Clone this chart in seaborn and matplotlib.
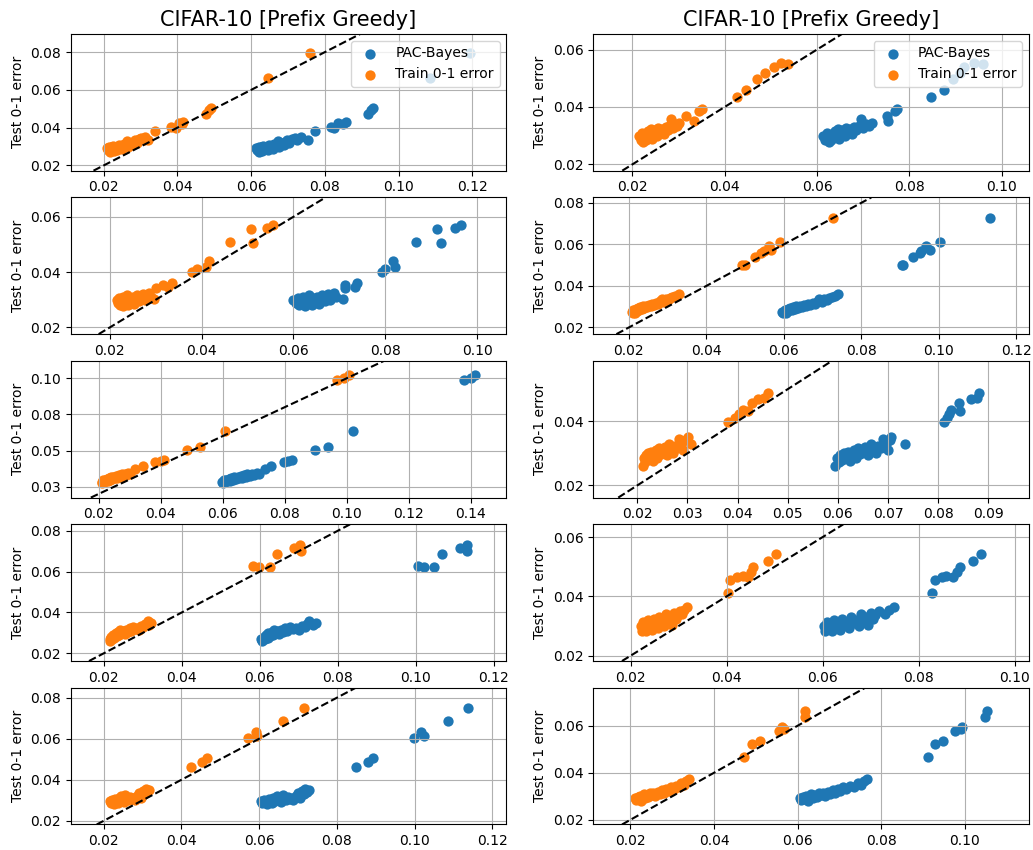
import matplotlib
matplotlib.use("Agg")
import matplotlib.pyplot as plt
import seaborn as sns
from matplotlib.ticker import FormatStrFormatter

# Each panel: train 0-1 error, PAC-Bayes bound and test 0-1 error of the same models
# (panels listed row by row: left, right)
train_1 = [0.0210, 0.0212, 0.0215, 0.0218, 0.0220, 0.0222, 0.0225, 0.0228, 0.0230, 0.0233,
           0.0236, 0.0240, 0.0243, 0.0247, 0.0250, 0.0254, 0.0258, 0.0262, 0.0265, 0.0270,
           0.0275, 0.0280, 0.0285, 0.0290, 0.0296, 0.0302, 0.0308, 0.0312, 0.0320,
           0.0340, 0.0382, 0.0395, 0.0403, 0.0416, 0.0412, 0.0477, 0.0490, 0.0485, 0.0646, 0.0759]
pb_1 = [0.0612, 0.0615, 0.0620, 0.0622, 0.0628, 0.0625, 0.0632, 0.0630, 0.0638, 0.0640,
        0.0645, 0.0648, 0.0652, 0.0655, 0.0660, 0.0662, 0.0668, 0.0672, 0.0675, 0.0680,
        0.0688, 0.0692, 0.0698, 0.0702, 0.0710, 0.0718, 0.0725, 0.0735, 0.0754,
        0.0772, 0.0817, 0.0825, 0.0835, 0.0858, 0.0850, 0.0916, 0.0930, 0.0925, 0.1085, 0.1193]
test_1 = [0.0290, 0.0280, 0.0300, 0.0272, 0.0295, 0.0285, 0.0305, 0.0276, 0.0292, 0.0300,
          0.0283, 0.0310, 0.0295, 0.0302, 0.0288, 0.0315, 0.0305, 0.0330, 0.0298, 0.0318,
          0.0308, 0.0325, 0.0335, 0.0320, 0.0340, 0.0345, 0.0335, 0.0350, 0.0332,
          0.0382, 0.0402, 0.0398, 0.0425, 0.0432, 0.0418, 0.0472, 0.0505, 0.0495, 0.0661, 0.0796]

train_2 = [0.0215, 0.0218, 0.0220, 0.0222, 0.0225, 0.0228, 0.0230, 0.0233, 0.0236, 0.0240,
           0.0243, 0.0246, 0.0250, 0.0253, 0.0256, 0.0260, 0.0264, 0.0268, 0.0272, 0.0276,
           0.0280, 0.0283, 0.0287, 0.0292, 0.0296, 0.0300,
           0.0315, 0.0333, 0.0344, 0.0350, 0.0427, 0.0447, 0.0470, 0.0488, 0.0506, 0.0522, 0.0538]
pb_2 = [0.0612, 0.0618, 0.0622, 0.0625, 0.0628, 0.0632, 0.0630, 0.0638, 0.0640, 0.0645,
        0.0648, 0.0652, 0.0655, 0.0660, 0.0662, 0.0668, 0.0672, 0.0676, 0.0680, 0.0685,
        0.0690, 0.0696, 0.0700, 0.0705, 0.0712, 0.0718,
        0.0752, 0.0754, 0.0768, 0.0774, 0.0846, 0.0874, 0.0894, 0.0909, 0.0919, 0.0941, 0.0959]
test_2 = [0.0300, 0.0285, 0.0310, 0.0278, 0.0295, 0.0305, 0.0285, 0.0315, 0.0298, 0.0322,
          0.0290, 0.0308, 0.0318, 0.0300, 0.0328, 0.0312, 0.0322, 0.0305, 0.0330, 0.0318,
          0.0335, 0.0358, 0.0325, 0.0340, 0.0332, 0.0345,
          0.0367, 0.0352, 0.0385, 0.0394, 0.0436, 0.0459, 0.0496, 0.0517, 0.0540, 0.0554, 0.0550]

train_3 = [0.0215, 0.0218, 0.0220, 0.0222, 0.0225, 0.0228, 0.0230, 0.0232, 0.0235, 0.0238,
           0.0240, 0.0243, 0.0246, 0.0250, 0.0253, 0.0257, 0.0260, 0.0264, 0.0268, 0.0272,
           0.0276, 0.0280, 0.0285, 0.0290, 0.0297,
           0.0301, 0.0317, 0.0335, 0.0328, 0.0380, 0.0391, 0.0409, 0.0417, 0.0462, 0.0507,
           0.0513, 0.0543, 0.0556]
pb_3 = [0.0600, 0.0605, 0.0610, 0.0612, 0.0618, 0.0622, 0.0625, 0.0628, 0.0632, 0.0635,
        0.0640, 0.0642, 0.0648, 0.0652, 0.0655, 0.0660, 0.0662, 0.0668, 0.0672, 0.0676,
        0.0680, 0.0684, 0.0688, 0.0692, 0.0709,
        0.0713, 0.0713, 0.0739, 0.0734, 0.0792, 0.0800, 0.0821, 0.0817, 0.0868, 0.0913,
        0.0922, 0.0951, 0.0964]
test_3 = [0.0298, 0.0288, 0.0305, 0.0282, 0.0295, 0.0310, 0.0276, 0.0300, 0.0290, 0.0318,
          0.0280, 0.0305, 0.0295, 0.0312, 0.0285, 0.0302, 0.0318, 0.0295, 0.0308, 0.0322,
          0.0300, 0.0315, 0.0325, 0.0310, 0.0304,
          0.0342, 0.0355, 0.0362, 0.0346, 0.0402, 0.0410, 0.0420, 0.0441, 0.0510, 0.0556,
          0.0505, 0.0558, 0.0570]

train_4 = [0.0208, 0.0210, 0.0212, 0.0215, 0.0218, 0.0220, 0.0223, 0.0226, 0.0230, 0.0233,
           0.0236, 0.0240, 0.0244, 0.0248, 0.0252, 0.0256, 0.0260, 0.0265, 0.0270, 0.0275,
           0.0280, 0.0285, 0.0290, 0.0295, 0.0300, 0.0306, 0.0312, 0.0320, 0.0329,
           0.0492, 0.0500, 0.0527, 0.0540, 0.0548, 0.0561, 0.0567, 0.0591, 0.0726]
pb_4 = [0.0595, 0.0598, 0.0602, 0.0605, 0.0610, 0.0612, 0.0615, 0.0620, 0.0625, 0.0628,
        0.0632, 0.0638, 0.0642, 0.0648, 0.0652, 0.0658, 0.0662, 0.0668, 0.0675, 0.0680,
        0.0688, 0.0692, 0.0698, 0.0705, 0.0712, 0.0718, 0.0725, 0.0732, 0.0740,
        0.0904, 0.0908, 0.0934, 0.0951, 0.0955, 0.0967, 0.0978, 0.1004, 0.1133]
test_4 = [0.0275, 0.0268, 0.0285, 0.0272, 0.0290, 0.0280, 0.0295, 0.0285, 0.0298, 0.0290,
          0.0302, 0.0295, 0.0305, 0.0298, 0.0310, 0.0302, 0.0315, 0.0308, 0.0320, 0.0312,
          0.0328, 0.0335, 0.0325, 0.0338, 0.0332, 0.0342, 0.0345, 0.0352, 0.0362,
          0.0502, 0.0500, 0.0540, 0.0560, 0.0568, 0.0590, 0.0574, 0.0611, 0.0726]

train_5 = [0.0210, 0.0212, 0.0215, 0.0218, 0.0220, 0.0223, 0.0226, 0.0230, 0.0233, 0.0236,
           0.0240, 0.0244, 0.0248, 0.0252, 0.0256, 0.0260, 0.0265, 0.0270, 0.0275, 0.0280,
           0.0285, 0.0290, 0.0296, 0.0302,
           0.0318, 0.0343, 0.0383, 0.0400, 0.0412, 0.0485, 0.0526, 0.0609, 0.0969, 0.0990, 0.1006]
pb_5 = [0.0598, 0.0600, 0.0605, 0.0608, 0.0612, 0.0615, 0.0620, 0.0625, 0.0628, 0.0632,
        0.0638, 0.0642, 0.0648, 0.0652, 0.0658, 0.0662, 0.0668, 0.0675, 0.0680, 0.0688,
        0.0695, 0.0702, 0.0710, 0.0718,
        0.0735, 0.0756, 0.0797, 0.0810, 0.0824, 0.0899, 0.0939, 0.1020, 0.1377, 0.1400, 0.1415]
test_5 = [0.0285, 0.0275, 0.0295, 0.0280, 0.0300, 0.0288, 0.0305, 0.0292, 0.0310, 0.0298,
          0.0315, 0.0302, 0.0320, 0.0308, 0.0325, 0.0312, 0.0330, 0.0318, 0.0335, 0.0325,
          0.0340, 0.0330, 0.0345, 0.0338,
          0.0370, 0.0392, 0.0421, 0.0425, 0.0433, 0.0507, 0.0528, 0.0636, 0.0988, 0.1005, 0.1020]

train_6 = [0.0212, 0.0214, 0.0216, 0.0218, 0.0220, 0.0222, 0.0225, 0.0228, 0.0231, 0.0234,
           0.0237, 0.0240, 0.0244, 0.0247, 0.0251, 0.0255, 0.0259, 0.0263, 0.0267, 0.0271,
           0.0275, 0.0280, 0.0284, 0.0288, 0.0292, 0.0296, 0.0301,
           0.0308, 0.0381, 0.0395, 0.0402, 0.0410, 0.0421, 0.0428, 0.0440, 0.0452, 0.0461]
pb_6 = [0.0595, 0.0598, 0.0602, 0.0605, 0.0608, 0.0612, 0.0615, 0.0620, 0.0624, 0.0628,
        0.0632, 0.0636, 0.0640, 0.0645, 0.0650, 0.0655, 0.0660, 0.0665, 0.0670, 0.0675,
        0.0680, 0.0686, 0.0690, 0.0695, 0.0700, 0.0703, 0.0705,
        0.0733, 0.0811, 0.0818, 0.0821, 0.0825, 0.0843, 0.0841, 0.0865, 0.0878, 0.0881]
test_6 = [0.0262, 0.0285, 0.0272, 0.0295, 0.0280, 0.0300, 0.0288, 0.0305, 0.0275, 0.0295,
          0.0310, 0.0285, 0.0318, 0.0298, 0.0308, 0.0320, 0.0295, 0.0330, 0.0310, 0.0300,
          0.0322, 0.0315, 0.0345, 0.0328, 0.0310, 0.0340, 0.0352,
          0.0330, 0.0398, 0.0410, 0.0423, 0.0436, 0.0433, 0.0457, 0.0468, 0.0473, 0.0488]

train_7 = [0.0215, 0.0217, 0.0219, 0.0221, 0.0224, 0.0227, 0.0230, 0.0233, 0.0236, 0.0239,
           0.0242, 0.0246, 0.0250, 0.0254, 0.0258, 0.0262, 0.0266, 0.0270, 0.0275, 0.0280,
           0.0285, 0.0290, 0.0295, 0.0300, 0.0306, 0.0312, 0.0316, 0.0320,
           0.0582, 0.0599, 0.0627, 0.0644, 0.0687, 0.0704, 0.0706]
pb_7 = [0.0602, 0.0605, 0.0610, 0.0612, 0.0615, 0.0620, 0.0622, 0.0626, 0.0630, 0.0633,
        0.0636, 0.0640, 0.0645, 0.0650, 0.0655, 0.0660, 0.0665, 0.0670, 0.0678, 0.0685,
        0.0692, 0.0700, 0.0708, 0.0715, 0.0722, 0.0725, 0.0735, 0.0745,
        0.1006, 0.1020, 0.1046, 0.1067, 0.1114, 0.1130, 0.1132]
test_7 = [0.0270, 0.0262, 0.0280, 0.0268, 0.0290, 0.0275, 0.0298, 0.0285, 0.0305, 0.0290,
          0.0315, 0.0298, 0.0308, 0.0292, 0.0315, 0.0302, 0.0322, 0.0310, 0.0330, 0.0318,
          0.0325, 0.0315, 0.0335, 0.0328, 0.0345, 0.0358, 0.0340, 0.0350,
          0.0626, 0.0622, 0.0624, 0.0684, 0.0714, 0.0731, 0.0702]

train_8 = [0.0222, 0.0224, 0.0226, 0.0228, 0.0230, 0.0233, 0.0236, 0.0239, 0.0242, 0.0245,
           0.0248, 0.0251, 0.0254, 0.0257, 0.0260, 0.0263, 0.0266, 0.0270, 0.0274, 0.0278,
           0.0282, 0.0286, 0.0290, 0.0294, 0.0298, 0.0303, 0.0308, 0.0312, 0.0318,
           0.0403, 0.0408, 0.0422, 0.0434, 0.0445, 0.0450, 0.0456, 0.0486, 0.0503]
pb_8 = [0.0602, 0.0605, 0.0610, 0.0612, 0.0615, 0.0620, 0.0624, 0.0628, 0.0632, 0.0636,
        0.0640, 0.0645, 0.0650, 0.0655, 0.0660, 0.0665, 0.0670, 0.0675, 0.0680, 0.0686,
        0.0690, 0.0695, 0.0700, 0.0705, 0.0710, 0.0718, 0.0730, 0.0738, 0.0748,
        0.0827, 0.0834, 0.0848, 0.0857, 0.0872, 0.0880, 0.0886, 0.0914, 0.0930]
test_8 = [0.0300, 0.0285, 0.0315, 0.0292, 0.0305, 0.0282, 0.0320, 0.0298, 0.0310, 0.0288,
          0.0325, 0.0302, 0.0315, 0.0295, 0.0332, 0.0310, 0.0322, 0.0300, 0.0340, 0.0318,
          0.0330, 0.0305, 0.0345, 0.0325, 0.0338, 0.0350, 0.0342, 0.0355, 0.0364,
          0.0413, 0.0456, 0.0467, 0.0468, 0.0465, 0.0484, 0.0498, 0.0521, 0.0543]

train_9 = [0.0215, 0.0218, 0.0221, 0.0224, 0.0227, 0.0230, 0.0233, 0.0236, 0.0239, 0.0242,
           0.0245, 0.0248, 0.0252, 0.0256, 0.0260, 0.0264, 0.0268, 0.0272, 0.0276, 0.0280,
           0.0286, 0.0292, 0.0296, 0.0300, 0.0304, 0.0308, 0.0312, 0.0316,
           0.0424, 0.0452, 0.0465, 0.0572, 0.0591, 0.0595, 0.0660, 0.0714]
pb_9 = [0.0605, 0.0608, 0.0612, 0.0615, 0.0620, 0.0624, 0.0628, 0.0632, 0.0636, 0.0640,
        0.0645, 0.0650, 0.0655, 0.0660, 0.0665, 0.0670, 0.0675, 0.0680, 0.0684, 0.0688,
        0.0695, 0.0700, 0.0705, 0.0710, 0.0714, 0.0718, 0.0722, 0.0728,
        0.0848, 0.0880, 0.0892, 0.0999, 0.1016, 0.1025, 0.1086, 0.1136]
test_9 = [0.0295, 0.0285, 0.0302, 0.0290, 0.0282, 0.0308, 0.0295, 0.0285, 0.0312, 0.0298,
          0.0320, 0.0305, 0.0290, 0.0325, 0.0310, 0.0300, 0.0318, 0.0305, 0.0312, 0.0302,
          0.0320, 0.0335, 0.0310, 0.0345, 0.0330, 0.0355, 0.0340, 0.0348,
          0.0462, 0.0486, 0.0507, 0.0605, 0.0632, 0.0612, 0.0687, 0.0748]

train_10 = [0.0211, 0.0214, 0.0217, 0.0220, 0.0223, 0.0226, 0.0229, 0.0232, 0.0235, 0.0239,
            0.0243, 0.0247, 0.0251, 0.0255, 0.0260, 0.0265, 0.0270, 0.0275, 0.0280, 0.0286,
            0.0292, 0.0298, 0.0304, 0.0310, 0.0316, 0.0322, 0.0328, 0.0334, 0.0339,
            0.0471, 0.0491, 0.0511, 0.0555, 0.0563, 0.0568, 0.0617, 0.0618]
pb_10 = [0.0605, 0.0608, 0.0612, 0.0615, 0.0620, 0.0625, 0.0628, 0.0632, 0.0636, 0.0640,
         0.0645, 0.0650, 0.0655, 0.0660, 0.0665, 0.0672, 0.0678, 0.0685, 0.0690, 0.0696,
         0.0702, 0.0708, 0.0715, 0.0725, 0.0735, 0.0745, 0.0752, 0.0758, 0.0765,
         0.0911, 0.0929, 0.0947, 0.0975, 0.0993, 0.0990, 0.1049, 0.1053]
test_10 = [0.0292, 0.0285, 0.0298, 0.0288, 0.0302, 0.0280, 0.0295, 0.0310, 0.0292, 0.0305,
           0.0298, 0.0315, 0.0305, 0.0312, 0.0302, 0.0318, 0.0310, 0.0325, 0.0315, 0.0330,
           0.0322, 0.0338, 0.0330, 0.0345, 0.0338, 0.0355, 0.0350, 0.0365, 0.0375,
           0.0466, 0.0524, 0.0537, 0.0579, 0.0593, 0.0585, 0.0635, 0.0661]

panels = [
    (train_1, pb_1, test_1), (train_2, pb_2, test_2),
    (train_3, pb_3, test_3), (train_4, pb_4, test_4),
    (train_5, pb_5, test_5), (train_6, pb_6, test_6),
    (train_7, pb_7, test_7), (train_8, pb_8, test_8),
    (train_9, pb_9, test_9), (train_10, pb_10, test_10),
]

BLUE = '#1f77b4'
ORANGE = '#ff7f0e'

fig, axes = plt.subplots(5, 2, figsize=(10.33, 8.5), dpi=100)
fig.subplots_adjust(left=0.0684, right=0.9961, top=0.96, bottom=0.03,
                    wspace=0.199, hspace=0.196)

for i, (train, pb, test) in enumerate(panels):
    ax = axes[i // 2, i % 2]
    sns.scatterplot(x=pb, y=test, color=BLUE, s=55, edgecolor='face', linewidth=0,
                    label='PAC-Bayes', ax=ax)
    sns.scatterplot(x=train, y=test, color=ORANGE, s=55, edgecolor='face', linewidth=0,
                    label='Train 0-1 error', ax=ax)

    # limits: data range padded by 0.01 on every side
    xs = pb + train
    ax.set_xlim(min(xs) - 0.01, max(xs) + 0.01)
    ax.set_ylim(min(test) - 0.01, max(test) + 0.01)
    ax.axline((0, 0), slope=1, color='k', linestyle='--', linewidth=1.5)

    ax.grid(True)
    ax.set_xlabel('')
    ax.set_ylabel('Test 0-1 error')
    ax.yaxis.set_major_formatter(FormatStrFormatter('%.2f'))

    if i < 2:
        ax.set_title('CIFAR-10 [Prefix Greedy]', fontsize=15)
        ax.legend(loc='upper right')
    elif ax.get_legend() is not None:
        ax.get_legend().remove()

fig.savefig('out.png', dpi=100)
